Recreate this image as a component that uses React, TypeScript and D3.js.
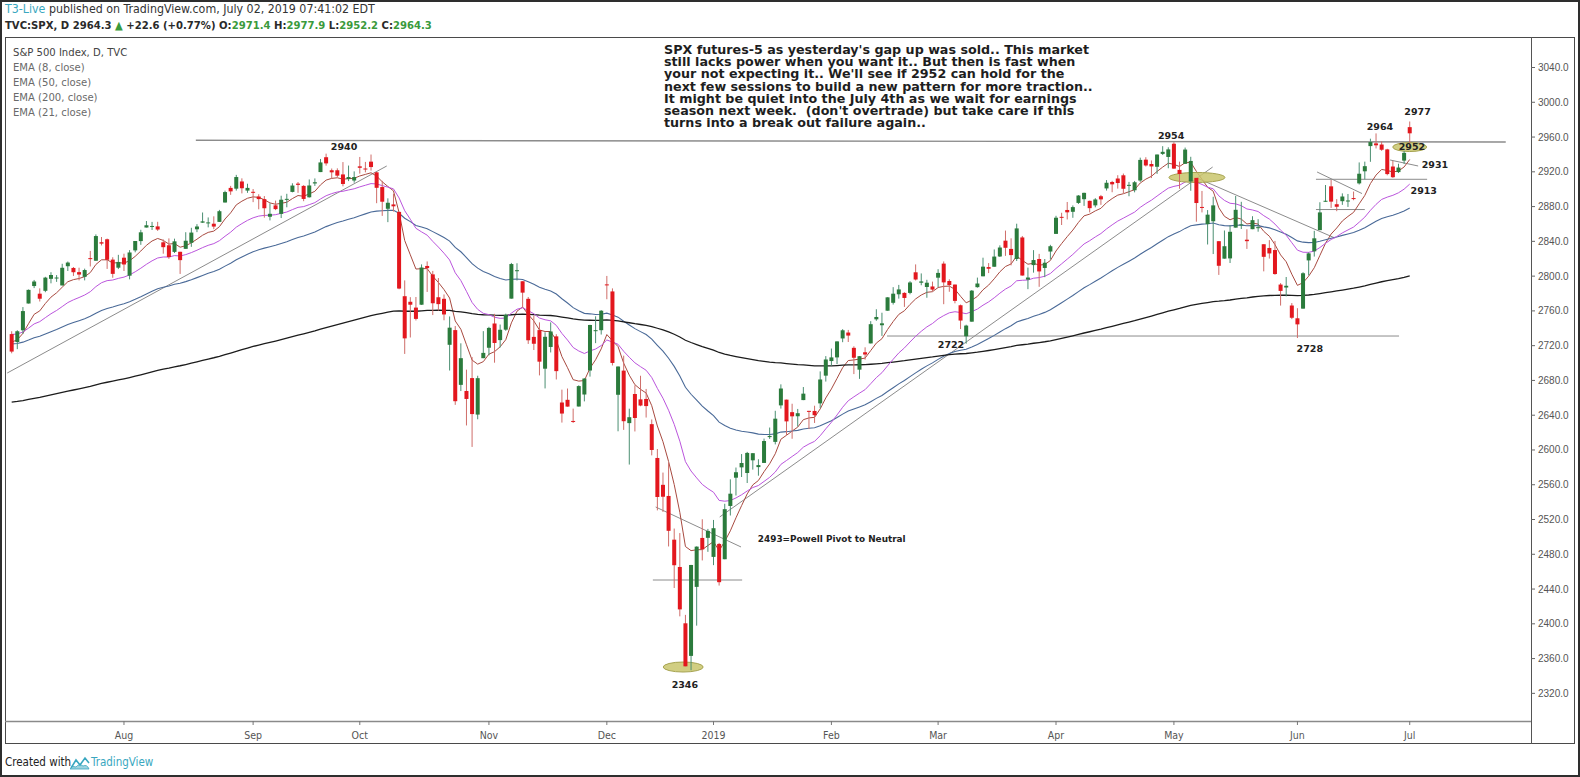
import React from "react";
import * as d3 from "d3";

// daily candles, TVC:SPX, Jul 2018 - Jul 2019
const dates = [
  "2018-07-03","2018-07-05","2018-07-06","2018-07-09","2018-07-10","2018-07-11","2018-07-12","2018-07-13","2018-07-16","2018-07-17",
  "2018-07-18","2018-07-19","2018-07-20","2018-07-23","2018-07-24","2018-07-25","2018-07-26","2018-07-27","2018-07-30","2018-07-31",
  "2018-08-01","2018-08-02","2018-08-03","2018-08-06","2018-08-07","2018-08-08","2018-08-09","2018-08-10","2018-08-13","2018-08-14",
  "2018-08-15","2018-08-16","2018-08-17","2018-08-20","2018-08-21","2018-08-22","2018-08-23","2018-08-24","2018-08-27","2018-08-28",
  "2018-08-29","2018-08-30","2018-08-31","2018-09-04","2018-09-05","2018-09-06","2018-09-07","2018-09-10","2018-09-11","2018-09-12",
  "2018-09-13","2018-09-14","2018-09-17","2018-09-18","2018-09-19","2018-09-20","2018-09-21","2018-09-24","2018-09-25","2018-09-26",
  "2018-09-27","2018-09-28","2018-10-01","2018-10-02","2018-10-03","2018-10-04","2018-10-05","2018-10-08","2018-10-09","2018-10-10",
  "2018-10-11","2018-10-12","2018-10-15","2018-10-16","2018-10-17","2018-10-18","2018-10-19","2018-10-22","2018-10-23","2018-10-24",
  "2018-10-25","2018-10-26","2018-10-29","2018-10-30","2018-10-31","2018-11-01","2018-11-02","2018-11-05","2018-11-06","2018-11-07",
  "2018-11-08","2018-11-09","2018-11-12","2018-11-13","2018-11-14","2018-11-15","2018-11-16","2018-11-19","2018-11-20","2018-11-21",
  "2018-11-23","2018-11-26","2018-11-27","2018-11-28","2018-11-29","2018-11-30","2018-12-03","2018-12-04","2018-12-06","2018-12-07",
  "2018-12-10","2018-12-11","2018-12-12","2018-12-13","2018-12-14","2018-12-17","2018-12-18","2018-12-19","2018-12-20","2018-12-21",
  "2018-12-24","2018-12-26","2018-12-27","2018-12-28","2018-12-31","2019-01-02","2019-01-03","2019-01-04","2019-01-07","2019-01-08",
  "2019-01-09","2019-01-10","2019-01-11","2019-01-14","2019-01-15","2019-01-16","2019-01-17","2019-01-18","2019-01-22","2019-01-23",
  "2019-01-24","2019-01-25","2019-01-28","2019-01-29","2019-01-30","2019-01-31","2019-02-01","2019-02-04","2019-02-05","2019-02-06",
  "2019-02-07","2019-02-08","2019-02-11","2019-02-12","2019-02-13","2019-02-14","2019-02-15","2019-02-19","2019-02-20","2019-02-21",
  "2019-02-22","2019-02-25","2019-02-26","2019-02-27","2019-02-28","2019-03-01","2019-03-04","2019-03-05","2019-03-06","2019-03-07",
  "2019-03-08","2019-03-11","2019-03-12","2019-03-13","2019-03-14","2019-03-15","2019-03-18","2019-03-19","2019-03-20","2019-03-21",
  "2019-03-22","2019-03-25","2019-03-26","2019-03-27","2019-03-28","2019-03-29","2019-04-01","2019-04-02","2019-04-03","2019-04-04",
  "2019-04-05","2019-04-08","2019-04-09","2019-04-10","2019-04-11","2019-04-12","2019-04-15","2019-04-16","2019-04-17","2019-04-18",
  "2019-04-22","2019-04-23","2019-04-24","2019-04-25","2019-04-26","2019-04-29","2019-04-30","2019-05-01","2019-05-02","2019-05-03",
  "2019-05-06","2019-05-07","2019-05-08","2019-05-09","2019-05-10","2019-05-13","2019-05-14","2019-05-15","2019-05-16","2019-05-17",
  "2019-05-20","2019-05-21","2019-05-22","2019-05-23","2019-05-24","2019-05-28","2019-05-29","2019-05-30","2019-05-31","2019-06-03",
  "2019-06-04","2019-06-05","2019-06-06","2019-06-07","2019-06-10","2019-06-11","2019-06-12","2019-06-13","2019-06-14","2019-06-17",
  "2019-06-18","2019-06-19","2019-06-20","2019-06-21","2019-06-24","2019-06-25","2019-06-26","2019-06-27","2019-06-28","2019-07-01",
];

const opens = [
  2733.3,2724.2,2737.7,2768.5,2788.6,2779.8,2783.1,2796.9,2797.4,2789.3,
  2811.4,2809.4,2804.6,2799.2,2820.7,2817.7,2839.0,2842.4,2819.0,2809.7,
  2821.2,2800.5,2829.6,2840.3,2855.9,2856.8,2857.2,2838.9,2835.5,2827.9,
  2828.0,2831.4,2838.3,2853.9,2861.5,2861.0,2860.3,2862.4,2884.7,2901.5,
  2900.6,2908.9,2898.4,2897.0,2891.6,2888.6,2868.3,2881.4,2871.6,2888.3,
  2896.9,2906.4,2903.8,2890.7,2906.6,2919.7,2936.8,2921.8,2921.8,2917.0,
  2911.7,2910.0,2926.3,2923.8,2931.7,2919.4,2902.5,2877.5,2882.5,2873.9,
  2776.9,2770.5,2763.8,2767.1,2811.7,2802.0,2775.7,2773.9,2721.0,2737.9,
  2674.9,2667.9,2682.7,2640.7,2705.6,2717.6,2745.5,2726.4,2738.4,2774.1,
  2806.8,2794.1,2773.9,2730.1,2737.9,2693.5,2718.5,2730.7,2654.6,2657.7,
  2633.4,2650.0,2663.8,2691.4,2737.0,2737.8,2790.5,2782.4,2663.5,2691.3,
  2630.9,2664.4,2658.2,2658.7,2629.7,2590.8,2559.9,2547.1,2496.8,2465.4,
  2400.6,2363.1,2442.5,2498.8,2498.9,2477.0,2491.9,2474.3,2535.6,2568.1,
  2580.0,2573.5,2588.1,2580.3,2585.1,2614.8,2609.3,2651.3,2657.9,2643.5,
  2638.8,2657.4,2645.0,2644.9,2653.6,2685.5,2702.3,2706.5,2728.3,2735.1,
  2717.5,2692.4,2712.4,2722.6,2750.3,2743.5,2760.2,2769.3,2779.1,2780.7,
  2780.7,2804.4,2792.4,2787.5,2788.1,2798.2,2814.4,2794.4,2790.3,2766.5,
  2730.8,2747.6,2787.3,2799.8,2810.4,2810.8,2822.6,2840.8,2831.3,2819.7,
  2844.5,2796.0,2812.7,2819.7,2809.4,2828.3,2848.6,2868.2,2876.1,2874.0,
  2884.2,2888.5,2886.6,2881.4,2891.9,2900.9,2908.3,2912.3,2916.0,2904.8,
  2898.8,2910.0,2934.0,2929.0,2925.8,2940.6,2937.1,2952.3,2922.2,2929.2,
  2908.9,2913.0,2879.6,2859.8,2863.1,2840.2,2820.1,2820.4,2855.8,2858.6,
  2841.9,2854.0,2856.1,2836.7,2832.4,2830.0,2790.3,2786.9,2766.2,2751.5,
  2762.6,2818.1,2828.5,2852.9,2885.8,2903.3,2882.7,2886.2,2886.8,2889.8,
  2906.7,2920.6,2949.6,2952.7,2951.4,2945.8,2926.1,2919.7,2932.9,2971.4,
];

const highs = [
  2736.6,2737.8,2764.4,2784.6,2795.6,2785.9,2799.2,2804.5,2801.2,2814.2,
  2816.8,2810.5,2809.7,2808.6,2829.0,2848.0,2845.0,2843.2,2821.7,2824.5,
  2825.8,2829.9,2840.4,2853.3,2863.4,2862.4,2862.5,2842.2,2843.4,2843.1,
  2828.0,2850.5,2855.6,2859.8,2873.2,2867.5,2868.8,2876.2,2898.3,2903.8,
  2916.5,2912.5,2906.3,2900.2,2894.2,2892.1,2883.8,2886.9,2892.5,2894.7,
  2906.8,2908.3,2904.7,2911.2,2912.4,2934.8,2940.9,2923.8,2924.0,2931.2,
  2927.2,2920.5,2937.1,2931.4,2939.9,2919.8,2909.6,2889.5,2894.8,2874.0,
  2795.1,2775.8,2776.0,2813.5,2816.9,2806.0,2797.8,2778.9,2753.6,2742.6,
  2722.7,2692.4,2706.9,2685.4,2736.7,2741.7,2756.6,2744.3,2756.8,2815.2,
  2814.8,2794.1,2776.0,2754.6,2746.8,2735.4,2746.8,2733.2,2669.4,2670.7,
  2647.6,2674.4,2682.5,2744.0,2753.8,2760.9,2800.2,2785.9,2696.1,2708.5,
  2647.5,2674.4,2685.4,2670.2,2635.1,2601.1,2574.0,2585.3,2509.6,2504.4,
  2410.3,2467.8,2489.1,2520.3,2509.2,2519.5,2493.1,2538.1,2566.2,2579.8,
  2595.3,2597.8,2596.3,2589.3,2613.1,2625.8,2645.1,2675.5,2657.9,2653.2,
  2647.2,2672.4,2645.0,2650.9,2690.4,2708.0,2716.7,2725.0,2739.0,2738.1,
  2719.3,2708.1,2718.1,2748.2,2761.9,2757.9,2775.7,2787.3,2789.9,2781.5,
  2794.2,2813.5,2803.1,2795.8,2793.7,2808.0,2816.9,2796.4,2790.3,2767.3,
  2744.1,2784.0,2798.3,2821.2,2815.0,2830.7,2835.4,2852.4,2843.5,2860.3,
  2846.2,2809.8,2829.9,2825.6,2819.7,2836.0,2869.4,2872.9,2885.3,2881.3,
  2893.2,2896.0,2886.9,2889.7,2893.4,2910.5,2909.6,2916.1,2918.0,2908.4,
  2909.5,2936.3,2936.8,2933.1,2939.9,2949.5,2948.2,2954.1,2931.7,2947.9,
  2937.3,2913.0,2898.0,2876.0,2891.3,2840.2,2852.5,2858.7,2892.2,2885.5,
  2853.9,2868.9,2865.5,2836.7,2841.4,2840.5,2792.0,2799.0,2769.0,2763.1,
  2804.5,2827.3,2852.1,2885.0,2904.8,2910.6,2888.6,2895.2,2894.5,2897.3,
  2930.8,2931.7,2958.1,2964.2,2954.9,2946.5,2932.6,2929.3,2944.0,2977.9,
];

const lows = [
  2711.2,2716.0,2733.5,2768.5,2786.2,2770.8,2781.5,2791.7,2793.4,2789.2,
  2805.9,2800.2,2795.1,2795.1,2811.1,2817.7,2835.3,2808.3,2798.1,2808.1,
  2805.9,2796.3,2827.4,2836.0,2855.9,2853.1,2852.0,2825.8,2819.9,2826.6,
  2802.5,2831.4,2833.7,2850.6,2861.3,2856.1,2854.0,2862.4,2884.7,2893.5,
  2898.4,2895.2,2895.8,2885.1,2876.9,2867.3,2864.1,2875.9,2866.8,2879.2,
  2896.4,2895.8,2886.2,2890.4,2903.8,2919.7,2927.1,2912.6,2913.7,2903.3,
  2909.3,2907.5,2917.9,2919.4,2921.4,2883.9,2869.3,2862.1,2874.3,2784.9,
  2710.5,2729.4,2749.0,2766.9,2781.8,2755.2,2760.3,2749.2,2691.4,2651.9,
  2667.8,2628.2,2603.5,2635.3,2705.6,2708.9,2700.4,2717.9,2737.1,2774.1,
  2795.0,2764.2,2722.0,2715.0,2685.8,2670.8,2712.2,2681.1,2631.5,2649.8,
  2631.1,2650.0,2655.9,2684.4,2722.9,2732.8,2773.4,2697.2,2621.5,2623.1,
  2583.2,2621.3,2650.3,2637.3,2593.8,2530.5,2528.7,2489.0,2441.2,2408.6,
  2351.1,2346.6,2397.9,2472.9,2482.8,2467.5,2444.0,2474.3,2524.6,2547.6,
  2568.9,2562.0,2577.4,2570.4,2585.1,2612.7,2606.4,2647.6,2617.3,2612.9,
  2627.0,2657.3,2624.1,2631.1,2648.3,2678.7,2696.9,2698.8,2724.0,2724.2,
  2687.3,2681.8,2703.9,2722.6,2748.6,2731.2,2760.2,2767.3,2774.1,2764.6,
  2779.1,2795.0,2789.5,2775.1,2782.5,2787.4,2767.7,2782.0,2768.7,2739.1,
  2722.3,2747.6,2786.7,2799.8,2803.5,2810.8,2822.0,2823.3,2812.4,2817.4,
  2800.5,2785.0,2804.0,2787.7,2798.8,2819.2,2848.6,2858.8,2865.2,2867.1,
  2883.0,2880.8,2873.3,2879.1,2882.0,2898.4,2896.5,2900.7,2895.5,2891.9,
  2896.4,2908.5,2926.1,2912.8,2917.6,2939.4,2924.1,2923.4,2900.5,2929.2,
  2898.2,2862.6,2873.3,2836.4,2825.4,2801.4,2820.1,2815.1,2855.8,2854.2,
  2831.3,2854.0,2851.1,2805.5,2820.2,2801.6,2766.1,2776.7,2750.5,2728.8,
  2762.6,2800.9,2822.5,2852.9,2885.5,2878.5,2874.7,2882.0,2879.6,2887.3,
  2905.4,2911.4,2931.5,2946.9,2944.1,2916.0,2913.0,2918.6,2929.1,2952.2,
];

const closes = [
  2713.2,2736.6,2759.8,2784.2,2793.8,2774.0,2798.3,2801.3,2798.4,2809.6,
  2815.6,2804.5,2801.8,2807.0,2820.4,2846.1,2837.4,2818.8,2802.6,2816.3,
  2813.4,2827.2,2840.4,2850.4,2858.5,2857.7,2853.6,2833.3,2821.9,2840.0,
  2818.4,2840.7,2850.1,2857.1,2863.0,2861.8,2857.0,2874.7,2896.7,2897.5,
  2914.0,2901.1,2901.5,2896.7,2888.6,2878.1,2871.7,2877.1,2887.9,2888.9,
  2904.2,2905.0,2888.8,2904.3,2908.0,2930.8,2929.7,2919.4,2915.6,2906.0,
  2914.0,2914.0,2924.6,2923.4,2925.5,2901.6,2885.6,2884.4,2880.3,2785.7,
  2728.4,2767.1,2750.8,2809.9,2809.2,2768.8,2767.8,2755.9,2740.7,2656.1,
  2705.6,2658.7,2641.3,2682.6,2711.7,2740.4,2723.1,2738.3,2755.5,2813.9,
  2806.8,2781.0,2726.2,2722.2,2701.6,2730.2,2736.3,2690.7,2641.9,2649.9,
  2632.6,2673.5,2682.2,2743.8,2737.8,2760.2,2790.4,2700.1,2696.0,2633.1,
  2637.7,2636.8,2651.1,2650.5,2600.0,2545.9,2546.2,2507.0,2467.4,2416.6,
  2351.1,2467.7,2488.8,2485.7,2506.9,2510.0,2447.9,2531.9,2549.7,2574.4,
  2585.0,2596.6,2596.3,2582.6,2610.3,2616.1,2636.0,2670.7,2632.9,2638.7,
  2642.3,2664.8,2643.9,2640.0,2681.1,2704.1,2706.5,2724.9,2737.7,2731.6,
  2706.1,2707.9,2709.8,2744.7,2753.0,2745.7,2775.6,2779.8,2784.7,2774.9,
  2792.7,2796.1,2793.9,2792.4,2784.5,2803.7,2792.8,2789.7,2771.5,2748.9,
  2743.1,2783.3,2791.5,2810.9,2808.5,2822.5,2832.9,2832.6,2824.2,2854.9,
  2800.7,2798.4,2818.5,2805.4,2815.4,2834.4,2867.2,2867.2,2873.4,2879.4,
  2892.7,2895.8,2878.2,2888.2,2888.3,2907.4,2905.6,2907.1,2900.5,2905.0,
  2908.0,2933.7,2927.3,2926.2,2939.9,2943.0,2945.8,2923.7,2917.5,2945.6,
  2932.5,2884.1,2879.4,2870.7,2881.4,2811.9,2834.4,2851.0,2876.3,2859.5,
  2840.2,2864.4,2856.3,2822.2,2826.1,2802.4,2783.0,2788.9,2752.1,2744.5,
  2803.3,2826.2,2843.5,2873.3,2886.7,2885.7,2879.8,2891.6,2887.0,2889.7,
  2917.8,2926.5,2954.2,2950.5,2945.4,2917.4,2913.8,2924.9,2941.8,2964.3,
];

// EMA settings; seed = value on the first bar
const emaPeriods = [8, 50, 200, 21];
const emaSeeds = [2724, 2722, 2655, 2733];
const emaColors = ["#a84a40", "#4a6a98", "#1c1c1c", "#bb55dd"];
const emaWidths = [1, 1.1, 1.3, 1];

const priceTicks = [2320, 2360, 2400, 2440, 2480, 2520, 2560, 2600, 2640, 2680, 2720, 2760, 2800, 2840, 2880, 2920, 2960, 3000, 3040];
const monthLabels = ["Aug", "Sep", "Oct", "Nov", "Dec", "2019", "Feb", "Mar", "Apr", "May", "Jun", "Jul"];
const monthStarts = ["2018-08-01", "2018-09-04", "2018-10-01", "2018-11-01", "2018-12-03", "2019-01-02", "2019-02-01", "2019-03-01", "2019-04-01", "2019-05-01", "2019-06-03", "2019-07-01"];

const legendLines = ["S&P 500 Index, D, TVC", "EMA (8, close)", "EMA (50, close)", "EMA (200, close)", "EMA (21, close)"];

const noteLines = [
  "SPX futures-5 as yesterday's gap up was sold.. This market",
  "still lacks power when you want it.. But then is fast when",
  "your not expecting it.. We'll see if 2952 can hold for the",
  "next few sessions to build a new pattern for more traction..",
  "It might be quiet into the July 4th as we wait for earnings",
  "season next week.  (don't overtrade) but take care if this",
  "turns into a break out failure again..",
];

// hand drawn lines: [bar index, price, bar index, price]
const drawnLines = [
  [32.8, 2956.3, 266.1, 2954.3],
  [-0.8, 2688.5, 66.8, 2926.7],
  [126.1, 2522.9, 213.9, 2925.5],
  [155.9, 2731.1, 247.1, 2731.1],
  [114.2, 2450.4, 130.1, 2450.4],
  [114.7, 2534.4, 129.9, 2488.4],
  [211.1, 2912.9, 235.7, 2843.8],
  [232.5, 2919.8, 240.5, 2895.0],
  [232.3, 2911.4, 252.1, 2911.4],
  [232.3, 2876.6, 241.0, 2876.6],
  [245.5, 2933.6, 250.5, 2926.7],
];

// highlight ellipses: [bar index, price, rx, ry]
const ellipses = [
  [211.1, 2913.5, 28, 5],
  [119.6, 2350.3, 20, 5],
  [249.0, 2948.5, 17, 4.5],
];

const levelLabels = ["2940", "2346", "2722", "2954", "2728", "2964", "2977", "2952", "2931", "2913"];
const levelIdx = [59.2, 119.9, 167.3, 206.5, 231.2, 243.7, 250.4, 249.4, 253.5, 251.5];
const levelPrice = [2948.5, 2330.5, 2720.7, 2961.8, 2716.1, 2972.1, 2989.4, 2948.5, 2927.8, 2897.9];

const UP = "#2b7b3c";
const DOWN = "#e3171e";
const UP_WICK = "#4b8f72";
const DOWN_WICK = "#cf6d69";
const TEAL = "#39a7c0";
const GREEN_TXT = "#3a9a3c";
const NARROW = "'Liberation Sans Narrow', 'DejaVu Sans Condensed', 'Liberation Sans', sans-serif";
const BOLD = "'DejaVu Sans', Verdana, sans-serif";

function ema(period: number, seed: number) {
  const k = 2 / (period + 1);
  const out: number[] = [];
  closes.forEach((c, i) => {
    out.push(i === 0 ? seed : out[i - 1] + k * (c - out[i - 1]));
  });
  return out;
}

export default function App() {
  const width = 1580;
  const height = 777;
  const plot = { left: 5, top: 37, right: 1531, bottom: 721 };

  const x = d3.scaleLinear().domain([-1.19, 270.6]).range([plot.left, plot.right]);
  const y = d3.scaleLinear().domain([2288.2, 3075.1]).range([plot.bottom, plot.top]);

  const line = d3
    .line<number>()
    .x((_, i) => x(i))
    .y((v) => y(v));

  const bodyW = 4;

  return (
    <svg
      width={width}
      height={height}
      style={{ position: "absolute", left: 0, top: 0, background: "#fff" }}
    >
      <defs>
        <clipPath id="plot">
          <rect x={plot.left} y={plot.top} width={plot.right - plot.left} height={plot.bottom - plot.top} />
        </clipPath>
      </defs>
      <rect x={0} y={0} width={width} height={height} fill="#fff" />

      {/* header */}
      <text x={5} y={13} fontFamily={NARROW} fontSize={12.3} fill="#333">
        <tspan fill={TEAL}>T3-Live</tspan> published on TradingView.com, July 02, 2019 07:41:02 EDT
      </text>
      <text x={5} y={29} fontFamily={NARROW} fontSize={11.2} fontWeight="bold" fill="#2a2a2a">
        TVC:SPX, D 2964.3 <tspan fill={GREEN_TXT}>▲</tspan> +22.6 (+0.77%) O:<tspan fill={GREEN_TXT}>2971.4</tspan> H:
        <tspan fill={GREEN_TXT}>2977.9</tspan> L:<tspan fill={GREEN_TXT}>2952.2</tspan> C:<tspan fill={GREEN_TXT}>2964.3</tspan>
      </text>

      {/* chart frame */}
      <rect x={5.5} y={37.5} width={1569} height={706} fill="none" stroke="#4a4a4a" />

      <g clipPath="url(#plot)">
        {drawnLines.map((l, i) => (
          <line
            key={"dl" + i}
            x1={x(l[0])}
            y1={y(l[1])}
            x2={x(l[2])}
            y2={y(l[3])}
            stroke="#8c8c8c"
            strokeWidth={i === 0 ? 1.4 : 1}
          />
        ))}

        {emaPeriods.map((p, k) => (
          <path
            key={"ema" + p}
            d={line(ema(p, emaSeeds[k])) || ""}
            fill="none"
            stroke={emaColors[k]}
            strokeWidth={emaWidths[k]}
          />
        ))}

        {ellipses.map((e, i) => (
          <ellipse
            key={"el" + i}
            cx={x(e[0])}
            cy={y(e[1])}
            rx={e[2]}
            ry={e[3]}
            fill="#c9c66c"
            fillOpacity={0.85}
            stroke="#a6a350"
          />
        ))}

        {dates.map((d, i) => {
          const o = opens[i];
          const c = closes[i];
          const up = c >= o;
          const cx = x(i);
          const top = y(Math.max(o, c));
          const bot = y(Math.min(o, c));
          return (
            <g key={d}>
              <line x1={cx} x2={cx} y1={y(highs[i])} y2={y(lows[i])} stroke={up ? UP_WICK : DOWN_WICK} />
              <rect
                x={cx - bodyW / 2}
                y={top}
                width={bodyW}
                height={Math.max(1, bot - top)}
                fill={up ? UP : DOWN}
              />
            </g>
          );
        })}

        {levelLabels.map((t, i) => (
          <text
            key={"lv" + i}
            x={x(levelIdx[i])}
            y={y(levelPrice[i])}
            dy="0.35em"
            textAnchor="middle"
            fontFamily={BOLD}
            fontWeight="bold"
            fontSize={9.5}
            fill="#222"
          >
            {t}
          </text>
        ))}

        <text
          x={x(132.9)}
          y={y(2497.5)}
          dy="0.35em"
          fontFamily={BOLD}
          fontWeight="bold"
          fontSize={8.9}
          fill="#222"
        >
          2493=Powell Pivot to Neutral
        </text>
      </g>

      {/* legend */}
      {legendLines.map((t, i) => (
        <text
          key={t}
          x={13}
          y={55.5 + i * 15}
          fontFamily={NARROW}
          fontSize={11.2}
          fill={i === 0 ? "#444" : "#6a6a6a"}
        >
          {t}
        </text>
      ))}

      {/* commentary */}
      {noteLines.map((t, i) => (
        <text
          key={"n" + i}
          x={664}
          y={54 + i * 12.2}
          fontFamily={BOLD}
          fontWeight="bold"
          fontSize={12.7}
          fill="#1e1e1e"
          style={{ whiteSpace: "pre" }}
        >
          {t}
        </text>
      ))}

      {/* price axis */}
      <line x1={plot.right + 0.5} x2={plot.right + 0.5} y1={37} y2={744} stroke="#555" />
      {priceTicks.map((p) => (
        <g key={p}>
          <line x1={plot.right} x2={plot.right + 4} y1={y(p)} y2={y(p)} stroke="#666" />
          <text x={plot.right + 7} y={y(p)} dy="0.35em" fontFamily="'Liberation Sans', sans-serif" fontSize={10} fill="#555">
            {p.toFixed(1)}
          </text>
        </g>
      ))}

      {/* time axis */}
      <line x1={5} x2={plot.right} y1={plot.bottom + 0.5} y2={plot.bottom + 0.5} stroke="#8a8a8a" strokeWidth={1.5} />
      {monthLabels.map((m, k) => {
        const i = dates.indexOf(monthStarts[k]);
        return (
          <g key={m}>
            <line x1={x(i)} x2={x(i)} y1={plot.bottom} y2={plot.bottom + 4} stroke="#777" />
            <text x={x(i)} y={739} textAnchor="middle" fontFamily={NARROW} fontSize={10.5} fill="#555">
              {m}
            </text>
          </g>
        );
      })}

      {/* footer */}
      <text x={5} y={766} fontFamily={NARROW} fontSize={11.5} fill="#222">
        Created with
      </text>
      <g transform="translate(70,756)" fill="none" stroke={TEAL} strokeWidth={1.6}>
        <path d="M1,12 L6,4 L10,9 L15,2 L19,7" />
        <path d="M0,13 Q2,9 6,11 Q9,7 13,10 Q17,8 19,13 Z" fill={TEAL} fillOpacity={0.5} strokeWidth={0.8} />
      </g>
      <text x={91} y={766} fontFamily={NARROW} fontSize={11.5} fill={TEAL}>
        TradingView
      </text>

      {/* outer border */}
      <rect x={1} y={1} width={width - 2} height={height - 2} fill="none" stroke="#2e2e2e" strokeWidth={2} />
    </svg>
  );
}
